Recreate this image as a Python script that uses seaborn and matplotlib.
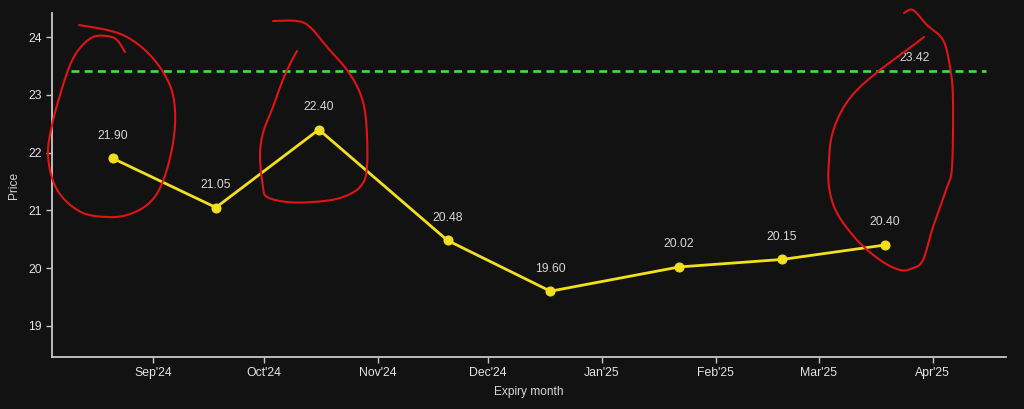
import numpy as np
import pandas as pd
import matplotlib
matplotlib.use("Agg")
import matplotlib.pyplot as plt
import matplotlib.dates as mdates
import seaborn as sns

# Futures curve values
expiry_dates = ["2024-08-21", "2024-09-18", "2024-10-16", "2024-11-20",
                "2024-12-18", "2025-01-22", "2025-02-19", "2025-03-19"]
prices = [21.90, 21.05, 22.40, 20.48, 19.60, 20.02, 20.15, 20.40]
spot_price = 23.42

x_start = "2024-08-04 10:00"
x_end = "2025-04-20 22:00"
y_limits = (18.46, 24.42)

BG = "#121212"
YELLOW = "#f2df1f"
GREEN = "#3ee23e"
RED = "#e01414"
AXIS = "#c8c8c8"
TEXT = "#d6d6d6"

# hand-drawn red marks on top of the chart, figure pixels (x, y from top)
scribbles = [
    [(79, 25), (107, 30), (127, 37), (147, 52), (163, 72), (173, 95), (175, 125),
     (170, 158), (160, 188), (147, 205), (127, 215), (107, 217), (83, 213),
     (63, 198), (52, 178), (48, 152), (52, 125), (60, 95), (70, 65), (80, 48),
     (93, 37), (107, 36), (117, 40), (125, 52)],
    [(273, 21), (297, 21), (310, 27), (327, 47), (347, 70), (360, 93), (366, 120),
     (367, 167), (360, 187), (340, 198), (313, 202), (287, 202), (267, 197),
     (263, 187), (260, 157), (263, 133), (273, 107), (282, 82), (291, 62), (297, 51)],
    [(904, 13), (913, 10), (927, 25), (943, 40), (950, 67), (953, 100), (952, 167),
     (947, 187), (933, 227), (923, 260), (913, 268), (900, 270), (880, 260),
     (857, 240), (837, 213), (829, 187), (829, 160), (832, 135), (842, 110),
     (857, 90), (880, 70), (907, 50), (924, 37)],
]


def smooth(points, steps=12):
    """Catmull-Rom pass through the traced points of a pen stroke."""
    p = np.array(points, dtype=float)
    p = np.vstack([p[0], p, p[-1]])
    out = []
    for i in range(1, len(p) - 2):
        p0, p1, p2, p3 = p[i - 1], p[i], p[i + 1], p[i + 2]
        for t in np.linspace(0, 1, steps, endpoint=False):
            t2, t3 = t * t, t * t * t
            out.append(0.5 * ((2 * p1) + (-p0 + p2) * t
                              + (2 * p0 - 5 * p1 + 4 * p2 - p3) * t2
                              + (-p0 + 3 * p1 - 3 * p2 + p3) * t3))
    out.append(p[-2])
    return np.array(out)


df = pd.DataFrame({"expiry": pd.to_datetime(expiry_dates), "price": prices})

sns.set_theme(style="dark")
plt.rcParams["font.family"] = ["Liberation Sans", "DejaVu Sans"]

W, H = 1024, 409
fig = plt.figure(figsize=(W / 100, H / 100), dpi=100, facecolor=BG)
ax = fig.add_axes([52 / W, 1 - 357 / H, (1006 - 52) / W, (357 - 13) / H])
ax.set_facecolor(BG)

sns.lineplot(data=df, x="expiry", y="price", ax=ax, color=YELLOW,
             linewidth=2.0, marker="o", markersize=6.5,
             markeredgecolor=YELLOW, markerfacecolor=YELLOW)

for d, v in zip(df["expiry"], df["price"]):
    ax.annotate(f"{v:.2f}", (d, v), xytext=(0, 12), textcoords="offset points",
                ha="center", va="bottom", fontsize=8.8, color=TEXT)

ax.axhline(spot_price, xmin=0.0196, xmax=0.979, color=GREEN, linewidth=1.9,
           linestyle=(0, (3.0, 2.0)))
ax.annotate(f"{spot_price:.2f}", (pd.Timestamp("2025-03-27"), spot_price),
            xytext=(0, 5), textcoords="offset points", ha="center", va="bottom",
            fontsize=8.8, color=TEXT)

ax.set_xlim(pd.Timestamp(x_start), pd.Timestamp(x_end))
ax.set_ylim(*y_limits)
ax.xaxis.set_major_locator(mdates.MonthLocator(bymonth=[9, 10, 11, 12, 1, 2, 3, 4]))
ax.xaxis.set_major_formatter(mdates.DateFormatter("%b'%y"))
ax.set_yticks([19, 20, 21, 22, 23, 24])

ax.set_xlabel("Expiry month", fontsize=8.6, color=TEXT, labelpad=5)
ax.set_ylabel("Price", fontsize=8.6, color=TEXT, labelpad=6)
ax.tick_params(axis="both", colors=AXIS, labelcolor="#e4e4e4", labelsize=8.8,
               length=4.3, width=1.0, bottom=True, left=True, pad=3)
ax.grid(False)
for side in ["top", "right"]:
    ax.spines[side].set_visible(False)
for side in ["left", "bottom"]:
    ax.spines[side].set_color(AXIS)
    ax.spines[side].set_linewidth(1.3)

# red pen marks drawn over the figure
for stroke in scribbles:
    pts = smooth(stroke)
    fig.add_artist(plt.Line2D(pts[:, 0] / W, 1 - pts[:, 1] / H, color=RED,
                              linewidth=1.5, solid_capstyle="round",
                              transform=fig.transFigure))

fig.savefig("out.png", dpi=100, facecolor=BG)
